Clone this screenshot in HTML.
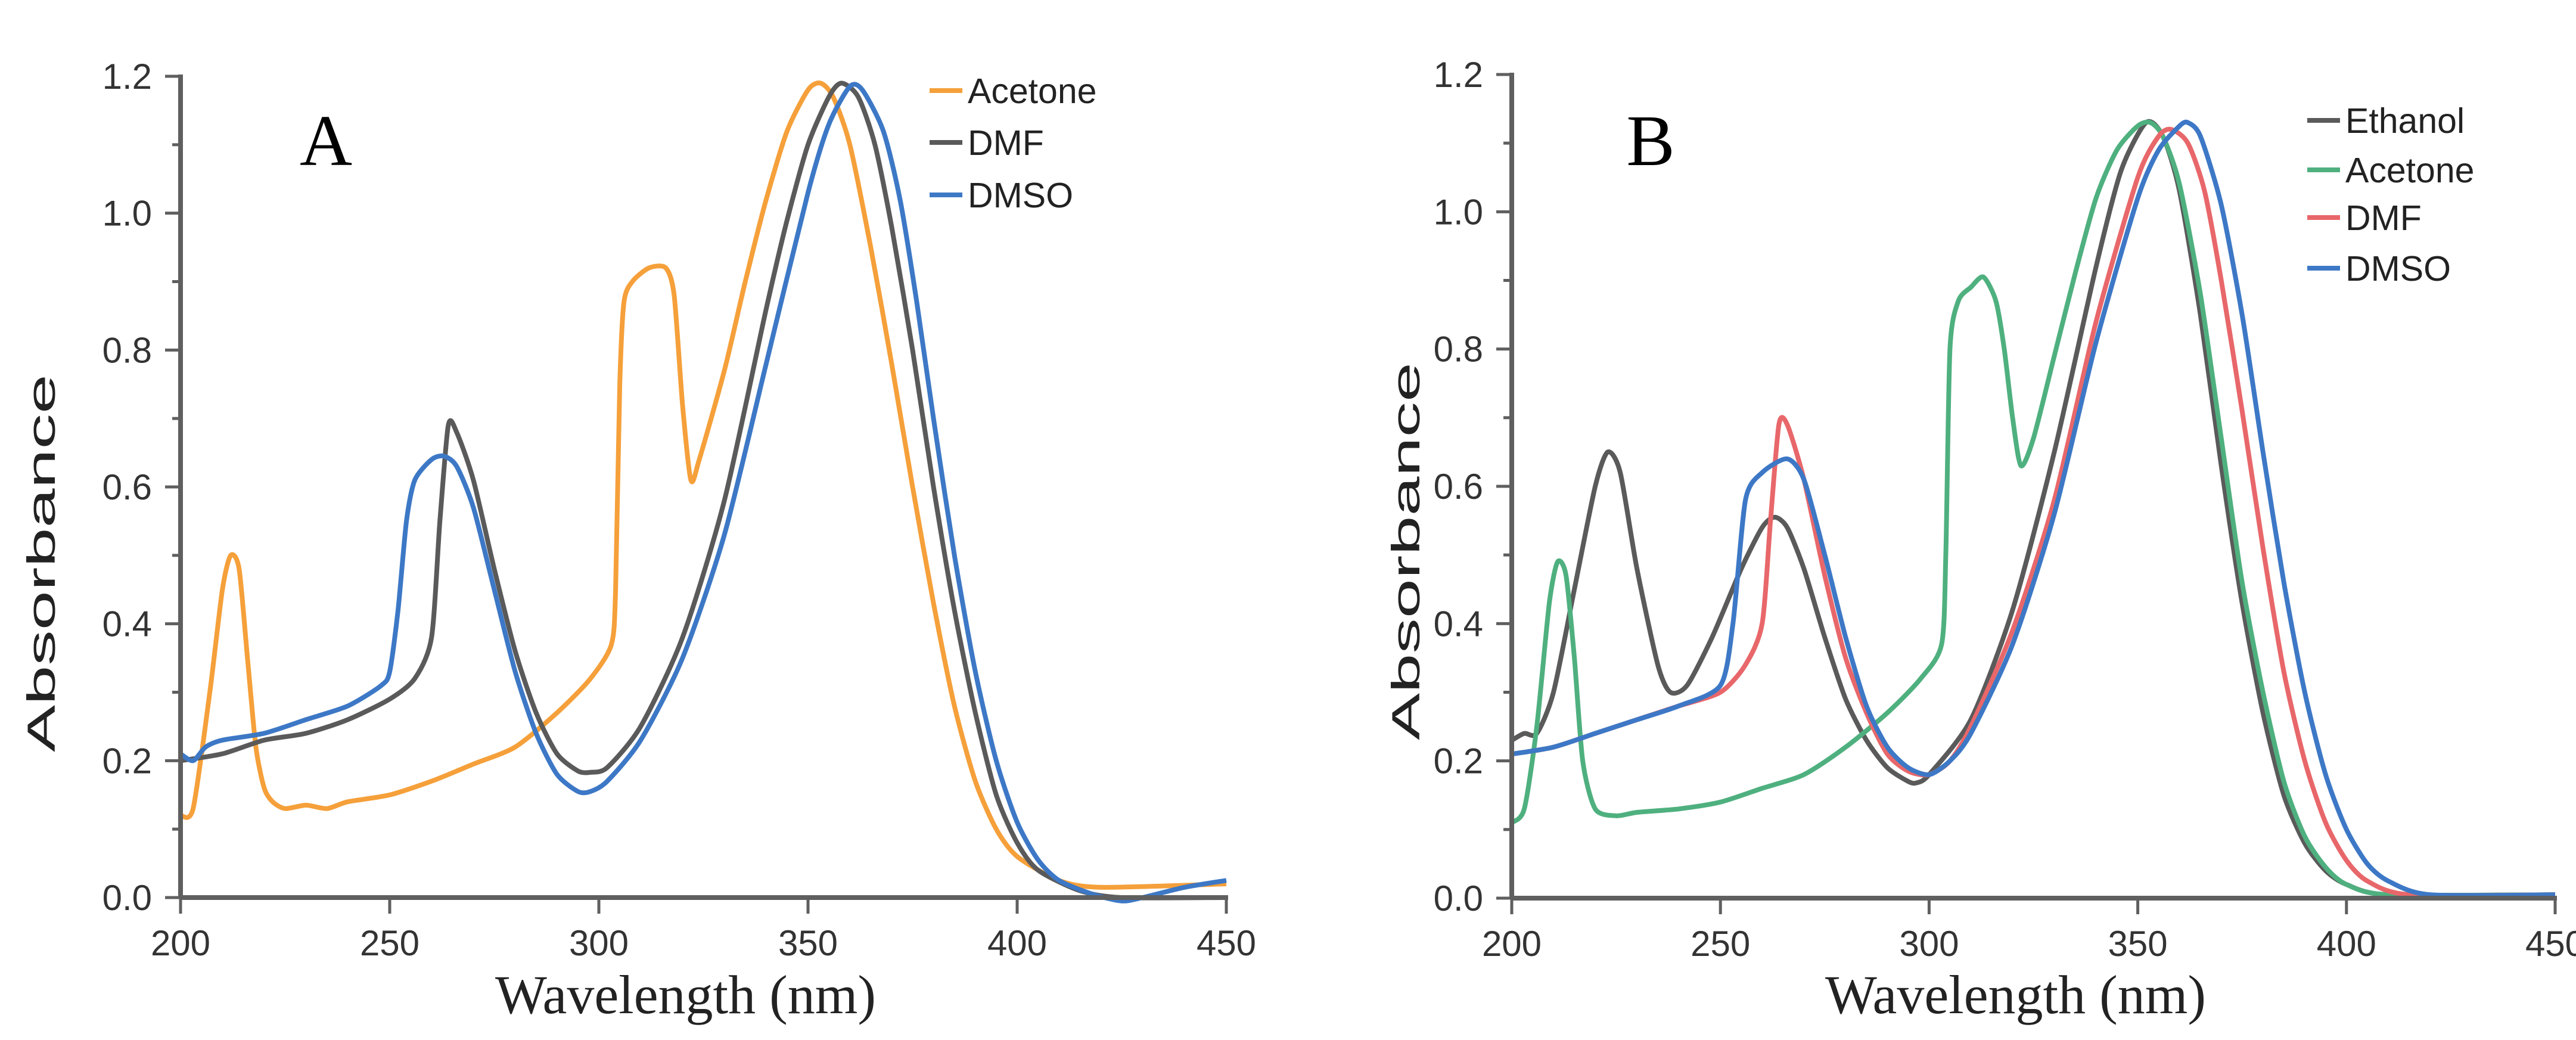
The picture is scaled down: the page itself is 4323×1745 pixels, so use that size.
<!DOCTYPE html>
<html><head><meta charset="utf-8">
<style>
html,body{margin:0;padding:0;background:#fff;}
svg{display:block;}
.tick{font-family:"Liberation Sans",sans-serif;font-size:60px;fill:#333;}
.leg{font-family:"Liberation Sans",sans-serif;font-size:59px;fill:#222;}
.xt{font-family:"Liberation Serif",serif;font-size:92px;fill:#222;}
.yt{font-family:"Liberation Sans",sans-serif;font-size:66px;fill:#222;}
.pl{font-family:"Liberation Serif",serif;font-size:122px;fill:#000;}
</style></head>
<body>
<svg id="chart" width="4323" height="1745" viewBox="0 0 4323 1745" xmlns="http://www.w3.org/2000/svg"></svg>
<script>
// ---- data ----
const xTicks=[200,250,300,350,400,450];
const yTicks=[0.0,0.2,0.4,0.6,0.8,1.0,1.2];
const yTickLabels=["0.0","0.2","0.4","0.6","0.8","1.0","1.2"];
const yMinor=[0.1,0.3,0.5,0.7,0.9,1.1];

const aAcetoneX=[200,203,207,210,212,214,216,218,220,222,225,230,235,240,250,260,270,280,290,298,303,304,305,306,308,312,316,318,320,322,324,330,335,340,345,350,353,356,360,365,370,375,380,385,390,395,400,410,420,450];
const aAcetoneY=[0.12,0.13,0.3,0.45,0.5,0.48,0.35,0.22,0.16,0.14,0.13,0.135,0.13,0.14,0.15,0.17,0.195,0.22,0.27,0.32,0.37,0.45,0.75,0.87,0.9,0.92,0.92,0.88,0.72,0.61,0.64,0.77,0.9,1.02,1.12,1.18,1.19,1.17,1.1,0.95,0.78,0.6,0.43,0.28,0.17,0.1,0.06,0.025,0.015,0.02];
const aDmfX=[200,210,220,230,240,250,256,260,262,264,266,270,275,280,285,290,295,298,302,310,320,330,340,345,350,355,358,362,366,370,375,380,385,390,395,400,405,415,425,450];
const aDmfY=[0.2,0.21,0.23,0.24,0.26,0.29,0.32,0.38,0.55,0.69,0.68,0.61,0.48,0.36,0.27,0.21,0.185,0.183,0.19,0.25,0.38,0.58,0.86,0.99,1.1,1.17,1.19,1.17,1.1,0.98,0.8,0.6,0.42,0.27,0.15,0.08,0.04,0.01,0.0,0.0];
const aDmsoX=[200,203,206,210,220,230,240,248,250,252,254,256,260,263,266,270,275,280,285,290,295,298,302,310,320,330,340,350,355,360,363,368,372,376,380,385,390,395,400,405,410,418,425,430,440,450];
const aDmsoY=[0.21,0.2,0.22,0.23,0.24,0.26,0.28,0.31,0.33,0.42,0.55,0.61,0.64,0.645,0.63,0.57,0.45,0.33,0.24,0.18,0.155,0.155,0.17,0.23,0.35,0.53,0.78,1.03,1.13,1.185,1.18,1.12,1.02,0.87,0.7,0.5,0.33,0.2,0.11,0.055,0.025,0.005,-0.005,0.0,0.015,0.025];

const bEthanolX=[200,203,206,210,215,220,223,226,230,235,238,242,248,255,260,263,266,270,275,280,285,290,295,297,300,310,320,330,340,346,352,356,360,365,370,375,380,385,390,395,400,410,450];
const bEthanolY=[0.23,0.24,0.24,0.3,0.45,0.6,0.65,0.62,0.48,0.34,0.3,0.31,0.38,0.48,0.54,0.555,0.54,0.48,0.38,0.29,0.23,0.19,0.17,0.168,0.18,0.26,0.42,0.65,0.92,1.06,1.13,1.11,1.03,0.85,0.63,0.43,0.27,0.15,0.08,0.04,0.02,0.005,0.005];
const bAcetoneX=[200,203,206,209,211,213,215,217,220,225,230,240,250,260,270,280,290,298,303,304,305,307,310,313,316,318,320,322,325,330,335,340,345,350,353,356,360,365,370,375,380,385,390,395,400,410,450];
const bAcetoneY=[0.11,0.13,0.25,0.43,0.49,0.47,0.35,0.2,0.13,0.12,0.125,0.13,0.14,0.16,0.18,0.22,0.27,0.32,0.37,0.5,0.8,0.87,0.89,0.905,0.87,0.8,0.7,0.63,0.67,0.79,0.91,1.02,1.09,1.125,1.13,1.11,1.04,0.88,0.67,0.46,0.3,0.17,0.09,0.045,0.02,0.005,0.005];
const bDmfX=[200,210,220,230,240,250,256,260,262,264,266,270,275,280,285,290,295,300,305,310,320,330,340,350,355,358,362,366,370,375,380,385,390,395,400,405,415,450];
const bDmfY=[0.21,0.22,0.24,0.26,0.28,0.3,0.34,0.4,0.55,0.69,0.69,0.61,0.47,0.35,0.27,0.21,0.185,0.18,0.2,0.25,0.39,0.58,0.84,1.05,1.11,1.12,1.1,1.03,0.9,0.71,0.51,0.33,0.2,0.11,0.055,0.025,0.005,0.005];
const bDmsoX=[200,210,220,230,240,250,253,256,260,266,270,275,280,285,290,295,300,305,310,320,330,340,350,355,360,362,365,370,375,380,385,390,395,400,405,410,420,450];
const bDmsoY=[0.21,0.22,0.24,0.26,0.28,0.31,0.4,0.58,0.62,0.64,0.61,0.5,0.38,0.28,0.22,0.19,0.18,0.2,0.24,0.37,0.56,0.81,1.02,1.09,1.125,1.13,1.11,1.01,0.85,0.65,0.46,0.3,0.18,0.1,0.05,0.025,0.005,0.005];

const svg=document.getElementById('chart');
const NS="http://www.w3.org/2000/svg";
function mk(tag,attrs,parent){const e=document.createElementNS(NS,tag);for(const k in attrs)e.setAttribute(k,attrs[k]);(parent||svg).appendChild(e);return e;}

function smoothPath(pts){
  const k=8;
  let d="M"+pts[0][0].toFixed(1)+","+pts[0][1].toFixed(1);
  for(let i=0;i<pts.length-1;i++){
    const p0=pts[Math.max(0,i-1)],p1=pts[i],p2=pts[i+1],p3=pts[Math.min(pts.length-1,i+2)];
    const c1x=p1[0]+(p2[0]-p0[0])/k,c1y=p1[1]+(p2[1]-p0[1])/k;
    const c2x=p2[0]-(p3[0]-p1[0])/k,c2y=p2[1]-(p3[1]-p1[1])/k;
    d+=" C"+c1x.toFixed(1)+","+c1y.toFixed(1)+" "+c2x.toFixed(1)+","+c2y.toFixed(1)+" "+p2[0].toFixed(1)+","+p2[1].toFixed(1);
  }
  return d;
}

function panel(cfg){
  const g=mk('g',{});
  
  
  const sx=v=>cfg.x0+(v-200)/250*(cfg.x1-cfg.x0);
  const sy=v=>cfg.y0-(v/1.2)*(cfg.y0-cfg.y1);
  cfg.series.forEach(s=>{
    const pts=s.xs.map((x,i)=>[sx(x),sy(s.ys[i])]);
    const p=mk('path',{d:smoothPath(pts),fill:'none',stroke:s.color,'stroke-width':8,'stroke-linejoin':'round'},g);
    
    
  });
  const ax=mk('g',{stroke:'#5f5f5f','stroke-width':8,fill:'none'},g);
  
  
  mk('line',{x1:cfg.x0,y1:cfg.y1-3,x2:cfg.x0,y2:cfg.y0},ax);
  mk('line',{x1:cfg.x0,y1:cfg.y0,x2:cfg.x1+3,y2:cfg.y0},ax);
  yTicks.forEach((v,i)=>{
    mk('line',{x1:cfg.x0-26,y1:sy(v),x2:cfg.x0,y2:sy(v),'stroke-width':5},ax);
    const t=mk('text',{x:cfg.x0-48,y:sy(v)+21,'text-anchor':'end',class:'tick'},g);
    t.textContent=yTickLabels[i];
    
    
  });
  yMinor.forEach(v=>{mk('line',{x1:cfg.x0-14,y1:sy(v),x2:cfg.x0,y2:sy(v),'stroke-width':5},ax);});
  xTicks.forEach(v=>{
    mk('line',{x1:sx(v),y1:cfg.y0,x2:sx(v),y2:cfg.y0+27,'stroke-width':5},ax);
    const t=mk('text',{x:sx(v),y:cfg.y0+97,'text-anchor':'middle',class:'tick'},g);
    t.textContent=v;
    
    
  });
  const xt=mk('text',{x:(cfg.x0+cfg.x1)/2-30,y:1700,'text-anchor':'middle',class:'xt'},g);
  xt.textContent='Wavelength (nm)';
  
  
  const yt=mk('text',{x:0,y:0,'text-anchor':'middle',class:'yt',transform:'translate('+(cfg.ytx)+','+cfg.yty+') rotate(-90) scale(1.8,1)'},g);
  yt.textContent='Absorbance';
  
  
  const pl=mk('text',{x:cfg.lx,y:277,'text-anchor':'middle',class:'pl'},g);
  pl.textContent=cfg.label;
  
  
  cfg.series.forEach((s,i)=>{
    const ly=cfg.legY[i];
    const le=mk('g',{},g);
    
    
    mk('line',{x1:cfg.legX,y1:ly,x2:cfg.legX+55,y2:ly,stroke:s.color,'stroke-width':8},le);
    const t=mk('text',{x:cfg.legX+64,y:ly+21,class:'leg'},le);
    t.textContent=s.label;
  });
}

panel({name:'panel-a',label:'A',x0:303,x1:2058,y0:1506,y1:128,lx:547,ytx:92,yty:945,legX:1560,legY:[152,239,327],
  series:[
    {id:'a-dmso',label:'DMSO',color:'#3d78c6',xs:aDmsoX,ys:aDmsoY},
    {id:'a-dmf',label:'DMF',color:'#5a5a5a',xs:aDmfX,ys:aDmfY},
    {id:'a-acetone',label:'Acetone',color:'#f5a03a',xs:aAcetoneX,ys:aAcetoneY}
  ].reverse()});
panel({name:'panel-b',label:'B',x0:2537,x1:4288,y0:1507,y1:125,lx:2770,ytx:2382,yty:925,legX:3872,legY:[202,285,365,450],
  series:[
    {id:'b-ethanol',label:'Ethanol',color:'#5a5a5a',xs:bEthanolX,ys:bEthanolY},
    {id:'b-acetone',label:'Acetone',color:'#4fb07f',xs:bAcetoneX,ys:bAcetoneY},
    {id:'b-dmf',label:'DMF',color:'#e8676a',xs:bDmfX,ys:bDmfY},
    {id:'b-dmso',label:'DMSO',color:'#3d78c6',xs:bDmsoX,ys:bDmsoY}
  ]});
</script>
</body></html>
